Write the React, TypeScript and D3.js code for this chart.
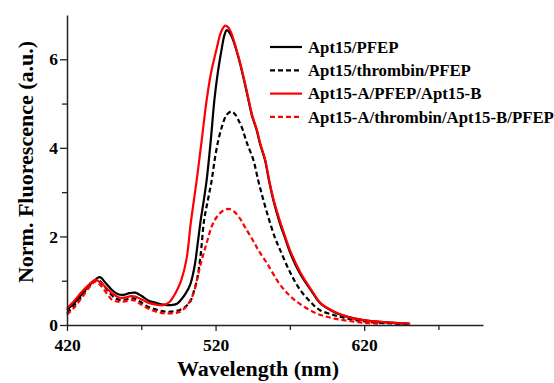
import React, { useEffect, useRef } from "react";
import * as d3 from "d3";

// wavelength (nm), normalized fluorescence (a.u.)
const apt15Pfep: [number, number][] = [
  [420, 0.34], [425, 0.5], [430, 0.7], [435, 0.9], [439, 1.02], [442, 1.08], [446, 0.95],
  [450, 0.8], [454, 0.7], [458, 0.68], [462, 0.72], [466, 0.73], [470, 0.66], [475, 0.55],
  [480, 0.5], [485, 0.46], [490, 0.45], [494, 0.48], [497, 0.58], [500, 0.72], [503, 0.92],
  [506, 1.35], [508, 1.85], [510, 2.37], [512, 2.8], [514, 3.27], [516.8, 4.18], [519.2, 5.08],
  [521.5, 5.7], [524.2, 6.25], [526, 6.55], [527.5, 6.66], [529, 6.62], [531, 6.5],
  [533.6, 6.25], [536.5, 5.9], [539.4, 5.49], [542, 5.1], [544.4, 4.74], [547.5, 4.42],
  [550, 4.08], [553.3, 3.72], [556, 3.25], [558.9, 2.82], [563, 2.33], [566.8, 1.96],
  [570, 1.65], [577, 1.15], [585.5, 0.72], [590.4, 0.49], [600, 0.29], [608.3, 0.19],
  [619.5, 0.11], [635, 0.06], [650, 0.03],
];
const apt15ThrombinPfep: [number, number][] = [
  [420, 0.27], [425, 0.45], [430, 0.65], [435, 0.88], [440.5, 1.02], [444, 0.92], [448, 0.75],
  [452, 0.62], [456, 0.56], [460, 0.58], [465, 0.6], [469, 0.53], [474, 0.42], [480, 0.35],
  [485, 0.31], [489.5, 0.3], [496, 0.34], [500, 0.42], [503, 0.53], [505, 0.72], [507.5, 1.02],
  [510, 1.6], [512.3, 2.37], [515, 2.85], [517.4, 3.27], [519.5, 3.75], [521.9, 4.18],
  [524.5, 4.5], [527.5, 4.75], [530.9, 4.82], [533.5, 4.74], [535.5, 4.62], [537.8, 4.45],
  [541, 4.12], [545.5, 3.72], [548.8, 3.25], [552.2, 2.82], [556, 2.38], [560.1, 1.96],
  [563.5, 1.69], [570, 1.2], [577, 0.79], [584.5, 0.5], [590, 0.34], [600, 0.22],
  [608, 0.15], [620, 0.08], [635, 0.04], [650, 0.02],
];
const apt15APfepB: [number, number][] = [
  [420, 0.38], [425, 0.55], [430, 0.75], [435, 0.92], [439, 1.02], [443, 0.95], [447, 0.82],
  [451, 0.7], [455, 0.62], [459, 0.62], [463, 0.65], [466, 0.64], [470, 0.58], [475, 0.5],
  [480, 0.46], [485, 0.45], [489, 0.52], [492, 0.66], [494.5, 0.82], [497, 1.02], [500.5, 1.5],
  [503.3, 2.3], [507.3, 3.27], [510.7, 4.18], [514, 5.08], [517, 5.7], [520.8, 6.25],
  [523.5, 6.6], [526.4, 6.76], [528.5, 6.72], [530.5, 6.6], [533.8, 6.25], [536.7, 5.9],
  [539.6, 5.49], [542.2, 5.1], [544.6, 4.74], [547.7, 4.42], [550.2, 4.08], [553.5, 3.72],
  [556.2, 3.25], [559.1, 2.82], [563.3, 2.35], [567, 1.98], [570.2, 1.68], [577.2, 1.18],
  [585.7, 0.73], [590.5, 0.5], [600, 0.3], [608.3, 0.19], [619.5, 0.11], [635, 0.06],
  [651, 0.03],
];
const apt15AThrombinBPfep: [number, number][] = [
  [420, 0.23], [425, 0.4], [430, 0.62], [435, 0.85], [439, 0.98], [443, 0.88], [447, 0.7],
  [450, 0.58], [453.5, 0.53], [458, 0.53], [464.5, 0.56], [468, 0.5], [473, 0.4], [480, 0.3],
  [487, 0.26], [496, 0.3], [501, 0.45], [505, 0.7], [508, 1.1], [510.7, 1.47], [514, 1.85],
  [517.4, 2.22], [521, 2.45], [525, 2.58], [528.8, 2.62], [532.5, 2.56], [536.5, 2.4],
  [540, 2.2], [545, 1.92], [549, 1.68], [554.5, 1.4], [563, 0.93], [570, 0.66], [577, 0.47],
  [588, 0.26], [598, 0.16], [608, 0.1], [620, 0.05], [630, 0.03],
];

const seriesNames = [
  "Apt15/PFEP",
  "Apt15/thrombin/PFEP",
  "Apt15-A/PFEP/Apt15-B",
  "Apt15-A/thrombin/Apt15-B/PFEP",
];
const seriesData = [apt15Pfep, apt15ThrombinPfep, apt15APfepB, apt15AThrombinBPfep];
const seriesColors = ["#000000", "#000000", "#ff0000", "#ff0000"];
const seriesDashed = [false, true, false, true];

const xMajorTicks = [420, 520, 620];
const xMinorTicks = [470, 570, 670];
const yMajorTicks = [0, 2, 4, 6];
const yMinorTicks = [1, 3, 5];

const FONT = "Liberation Serif";

const App = () => {
  const svgRef = useRef<SVGSVGElement>(null);

  useEffect(() => {
    const svg = d3.select(svgRef.current);
    svg.selectAll("*").remove();

    const left = 67, right = 483, top = 15, bottom = 325;
    const x = d3.scaleLinear().domain([420, 700]).range([left, right]);
    const y = d3.scaleLinear().domain([0, 7]).range([bottom, top]);

    const line = d3.line<[number, number]>()
      .x((d) => x(d[0]))
      .y((d) => y(d[1]))
      .curve(d3.curveCatmullRom.alpha(0.5));

    // curves
    seriesData.forEach((data, i) => {
      svg.append("path")
        .datum(data)
        .attr("fill", "none")
        .attr("stroke", seriesColors[i])
        .attr("stroke-width", 2.2)
        .attr("stroke-dasharray", seriesDashed[i] ? "5,3" : null)
        .attr("d", line);
    });

    // axes
    const axisColor = "#222";
    const xAxis = svg.append("g").attr("transform", `translate(0,${bottom})`)
      .call(d3.axisBottom(x).tickValues(xMajorTicks).tickSize(6).tickSizeOuter(0).tickFormat(d3.format("d")));
    svg.append("g").attr("transform", `translate(0,${bottom})`)
      .call(d3.axisBottom(x).tickValues(xMinorTicks).tickSize(5).tickFormat(() => ""))
      .select(".domain").remove();
    const yAxis = svg.append("g").attr("transform", `translate(${left},0)`)
      .call(d3.axisLeft(y).tickValues(yMajorTicks).tickSize(7).tickSizeOuter(0).tickFormat(d3.format("d")));
    svg.append("g").attr("transform", `translate(${left},0)`)
      .call(d3.axisLeft(y).tickValues(yMinorTicks).tickSize(5).tickFormat(() => ""))
      .select(".domain").remove();

    svg.selectAll("g").attr("font-family", FONT);
    svg.selectAll(".domain").attr("stroke", axisColor).attr("stroke-width", 1.5);
    svg.selectAll(".tick line").attr("stroke", axisColor).attr("stroke-width", 1.3);
    svg.selectAll(".tick text")
      .attr("fill", "#000")
      .attr("font-family", FONT)
      .attr("font-weight", "bold")
      .attr("font-size", 17.5);
    xAxis.selectAll(".tick text").attr("dy", "0.95em");
    yAxis.selectAll(".tick text").attr("x", -9);

    // axis titles
    svg.append("text")
      .attr("x", 258)
      .attr("y", 376)
      .attr("text-anchor", "middle")
      .attr("font-family", FONT)
      .attr("font-weight", "bold")
      .attr("font-size", 22)
      .text("Wavelength (nm)");
    svg.append("text")
      .attr("transform", `translate(33,${162}) rotate(-90)`)
      .attr("text-anchor", "middle")
      .attr("font-family", FONT)
      .attr("font-weight", "bold")
      .attr("font-size", 22)
      .text("Norm. Fluorescence (a.u.)");

    // legend
    const legend = svg.append("g").attr("transform", "translate(270,47)");
    seriesNames.forEach((name, i) => {
      const row = legend.append("g").attr("transform", `translate(0,${i * 23.3})`);
      row.append("line")
        .attr("x1", 0).attr("x2", 32)
        .attr("stroke", seriesColors[i])
        .attr("stroke-width", 2.2)
        .attr("stroke-dasharray", seriesDashed[i] ? "5,3" : null);
      row.append("text")
        .attr("x", 38)
        .attr("dy", "0.35em")
        .attr("font-family", FONT)
        .attr("font-weight", "bold")
        .attr("font-size", 16.8)
        .text(name);
    });
  }, []);

  return (
    <svg ref={svgRef} width={554} height={383}
      style={{ position: "absolute", left: 0, top: 0, background: "#fff" }} />
  );
};

export default App;
